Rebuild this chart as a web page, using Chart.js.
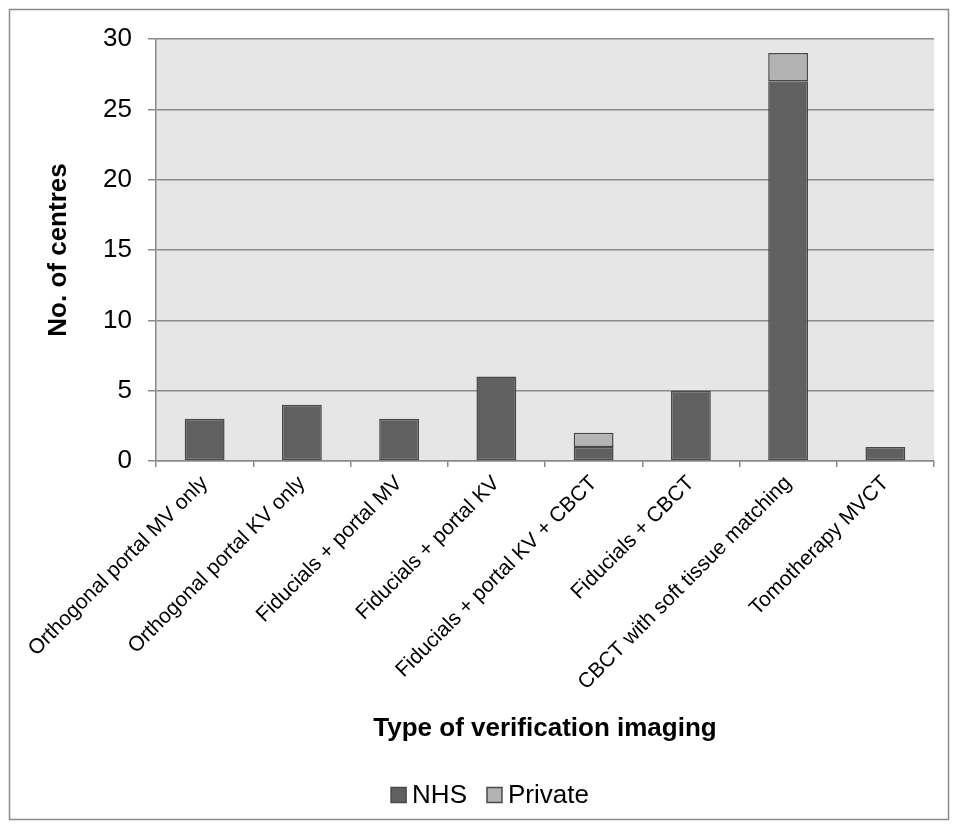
<!DOCTYPE html>
<html>
<head>
<meta charset="utf-8">
<title>Type of verification imaging</title>
<script src="https://cdn.jsdelivr.net/npm/chart.js@4/dist/chart.umd.min.js"></script>
<style>
  html, body { margin: 0; padding: 0; background: #ffffff; }
  #wrap { width: 954px; height: 828px; position: relative; }
</style>
</head>
<body>
<div id="wrap"><canvas id="chart" width="954" height="828"></canvas></div>
<script>
// Verification imaging used by centres, split by sector
const categories = [
  'Orthogonal portal MV only',
  'Orthogonal portal KV only',
  'Fiducials + portal MV',
  'Fiducials + portal KV',
  'Fiducials + portal KV + CBCT',
  'Fiducials + CBCT',
  'CBCT with soft tissue matching',
  'Tomotherapy MVCT'
];
const nhsCentres     = [3, 4, 3, 6, 1, 5, 27, 1];
const privateCentres = [0, 0, 0, 0, 1, 0, 2, 0];
const yTicks = [0, 5, 10, 15, 20, 25, 30];

const FONT = "'Liberation Sans', Arial, sans-serif";
const AXIS_GREY = '#8a8a8a';

// White page, outer frame and grey plot background
const backdrop = {
  id: 'backdrop',
  beforeDraw(chart) {
    const { ctx, chartArea: a } = chart;
    ctx.save();
    ctx.fillStyle = '#ffffff';
    ctx.fillRect(0, 0, chart.width, chart.height);
    ctx.strokeStyle = AXIS_GREY;
    ctx.lineWidth = 1.5;
    ctx.strokeRect(9.5, 9.5, 939, 810);
    ctx.fillStyle = '#e6e6e6';
    ctx.fillRect(a.left, a.top, a.right - a.left, a.bottom - a.top);
    ctx.restore();
  }
};

// Legend row under the axis title
const bottomLegend = {
  id: 'bottomLegend',
  afterDraw(chart) {
    const { ctx } = chart;
    const items = chart.data.datasets.map(d => ({ text: d.label, fill: d.backgroundColor, stroke: d.borderColor }));
    const box = 15, gapText = 6, gapItem = 20, cy = 795;
    ctx.save();
    ctx.font = '26px ' + FONT;
    ctx.textBaseline = 'middle';
    const widths = items.map(it => box + gapText + ctx.measureText(it.text).width);
    const total = widths.reduce((s, w) => s + w, 0) + gapItem * (items.length - 1);
    let x = 490 - total / 2;
    items.forEach((it, i) => {
      ctx.fillStyle = it.fill;
      ctx.fillRect(x, cy - box / 2, box, box);
      ctx.strokeStyle = it.stroke;
      ctx.lineWidth = 1.5;
      ctx.strokeRect(x, cy - box / 2, box, box);
      ctx.fillStyle = '#000000';
      ctx.fillText(it.text, x + box + gapText, cy + 1);
      x += widths[i] + gapItem;
    });
    ctx.restore();
  }
};

new Chart(document.getElementById('chart'), {
  type: 'bar',
  data: {
    labels: categories,
    datasets: [
      {
        label: 'NHS',
        data: nhsCentres,
        backgroundColor: '#606060',
        borderColor: '#484848',
        borderWidth: 1.5,
        borderSkipped: false
      },
      {
        label: 'Private',
        data: privateCentres,
        backgroundColor: '#b3b3b3',
        borderColor: '#484848',
        borderWidth: 1.5,
        borderSkipped: false
      }
    ]
  },
  options: {
    responsive: false,
    animation: false,
    devicePixelRatio: 1,
    layout: { padding: { left: 10, top: 39, right: 20, bottom: 68 } },
    datasets: { bar: { barPercentage: 0.41, categoryPercentage: 1 } },
    plugins: {
      legend: { display: false },
      tooltip: { enabled: false }
    },
    scales: {
      x: {
        stacked: true,
        offset: true,
        grid: {
          display: true,
          offset: true,
          drawOnChartArea: false,
          drawTicks: true,
          tickLength: 6,
          color: AXIS_GREY,
          lineWidth: 1.5
        },
        border: { display: true, color: AXIS_GREY, width: 1.5 },
        ticks: {
          autoSkip: false,
          minRotation: 45,
          maxRotation: 45,
          padding: 4,
          color: '#000000',
          font: { family: FONT, size: 21 }
        },
        title: {
          display: true,
          text: 'Type of verification imaging',
          color: '#000000',
          font: { family: FONT, size: 26, weight: 'bold' },
          padding: { top: 0, bottom: 16 }
        },
        afterFit(scale) { scale.height = 299; }
      },
      y: {
        stacked: true,
        min: 0,
        max: 30,
        afterBuildTicks(scale) { scale.ticks = yTicks.map(v => ({ value: v })); },
        grid: {
          color: AXIS_GREY,
          lineWidth: 1.5,
          drawTicks: true,
          tickLength: 8
        },
        border: { display: true, color: AXIS_GREY, width: 1.5 },
        ticks: {
          padding: 16,
          color: '#000000',
          font: { family: FONT, size: 26 }
        },
        title: {
          display: true,
          text: 'No. of centres',
          color: '#000000',
          font: { family: FONT, size: 26, weight: 'bold' },
          padding: { top: 33, bottom: 0 }
        },
        afterFit(scale) { scale.width = 146; }
      }
    }
  },
  plugins: [backdrop, bottomLegend]
});
</script>
</body>
</html>
